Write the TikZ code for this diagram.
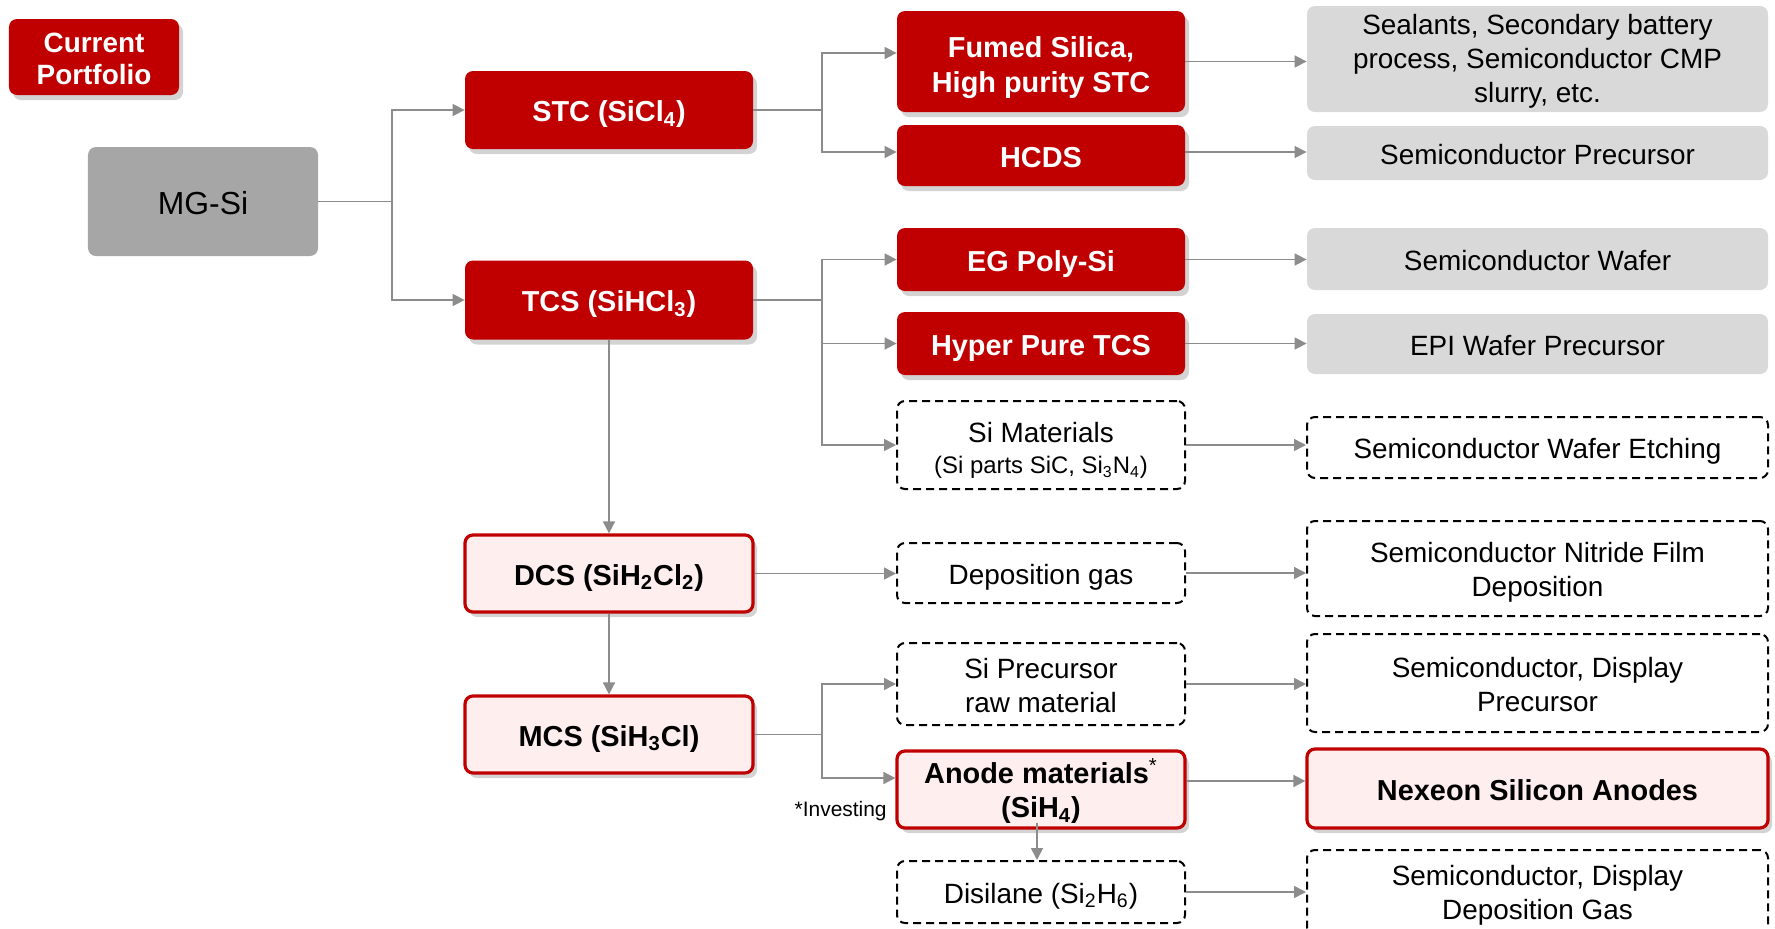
\documentclass[tikz,border=0pt]{standalone}
\usepackage{fontspec}
\setmainfont{Liberation Sans}
\usetikzlibrary{shadows,arrows.meta}
\definecolor{cred}{HTML}{C00000}
\definecolor{cpink}{HTML}{FFEEEE}
\definecolor{cgrey}{HTML}{A6A6A6}
\definecolor{clgrey}{HTML}{D9D9D9}
\definecolor{cline}{HTML}{8C8C8C}
\newcommand\pptTop{\rule{0pt}{1.03em}}
\newcommand\pptBot{\rule[-0.212em]{0pt}{0pt}}
\newcommand\firstline[1]{\rule{0pt}{#1}}
\begin{document}
\begin{tikzpicture}[x=0.5bp,y=-0.5bp,
 base/.style={align=center, inner sep=0pt, rounded corners=4bp, font=\fontsize{14}{17}\selectfont,
   execute at begin node=\pptTop, execute at end node=\pptBot},
 shad/.style={drop shadow={opacity=0.35, shadow xshift=2bp, shadow yshift=-2.5bp}},
 redbox/.style={base, fill=cred, text=white, font=\bfseries\fontsize{14.5}{17.5}\selectfont, shad},
 pinkbox/.style={base, fill=cpink, draw=cred, line width=1.6bp, font=\bfseries\fontsize{14.5}{17.5}\selectfont, shad},
 greybox/.style={base, fill=clgrey},
 dashbox/.style={base, draw=black, line width=1bp, dash pattern=on 4bp off 2.5bp},
 leftw/.style={minimum width=144bp},
 rightw/.style={minimum width=230.5bp},
 conn/.style={draw=cline, line width=0.8bp, -{Triangle[length=6bp,width=6bp]}},
 plain/.style={draw=cline, line width=0.8bp}
]
\useasboundingbox (0,0) rectangle (1775,928);

% column 0/1
\node[redbox, minimum width=85bp, minimum height=38bp, font=\bfseries\fontsize{14}{16}\selectfont] (cp) at (94,57) {\firstline{14.7bp}Current\\Portfolio};
\node[base, fill=cgrey, font=\fontsize{16}{19}\selectfont, minimum width=115bp, minimum height=54.5bp] (mg) at (203,201.5) {MG-Si};

% column 2
\node[redbox, minimum width=144bp, minimum height=39bp] (stc) at (609,110) {STC (SiCl\textsubscript{4})};
\node[redbox, minimum width=144bp, minimum height=39.5bp] (tcs) at (609,300) {TCS (SiHCl\textsubscript{3})};
\node[pinkbox, minimum width=144bp, minimum height=38.5bp] (dcs) at (609,573.5) {DCS (SiH\textsubscript{2}Cl\textsubscript{2})};
\node[pinkbox, minimum width=144bp, minimum height=38.5bp] (mcs) at (609,734.5) {MCS (SiH\textsubscript{3}Cl)};

% column 3
\node[redbox, leftw, minimum height=50.5bp] (fumed) at (1041,61.5) {\firstline{16.3bp}Fumed Silica,\\High purity STC};
\node[redbox, leftw, minimum height=30.5bp] (hcds) at (1041,155.5) {HCDS};
\node[redbox, leftw, minimum height=31.5bp] (eg) at (1041,259.5) {EG Poly-Si};
\node[redbox, leftw, minimum height=31.5bp] (hp) at (1041,343.5) {Hyper Pure TCS};
\node[dashbox, leftw, minimum height=44bp] (simat) at (1041,445) {\firstline{15.9bp}Si Materials\\[-1bp]{\fontsize{12}{14}\selectfont (Si parts SiC, Si\textsubscript{3}N\textsubscript{4})}};
\node[dashbox, leftw, minimum height=30bp] (depgas) at (1041,573) {Deposition gas};
\node[dashbox, leftw, minimum height=41bp] (sipre) at (1041,684) {\firstline{14.7bp}Si Precursor\\raw material};
\node[pinkbox, leftw, minimum height=38.5bp] (anode) at (1041,789.5) {\firstline{14.1bp}Anode materials\textsuperscript{\mdseries *}\\(SiH\textsubscript{4})};
\node[dashbox, leftw, minimum height=31bp] (disilane) at (1041,892) {Disilane (Si\textsubscript{2}H\textsubscript{6})};
\node[anchor=east, inner sep=0pt, font=\fontsize{10.5}{12}\selectfont] (inv) at (887,811) {*Investing};

% column 4
\node[greybox, rightw, minimum height=53bp] (seal) at (1537.5,59) {\firstline{12.5bp}Sealants, Secondary battery\\process, Semiconductor CMP\\slurry, etc.};
\node[greybox, rightw, minimum height=27bp] (sempre) at (1537.5,153) {Semiconductor Precursor};
\node[greybox, rightw, minimum height=31bp] (wafer) at (1537.5,259) {Semiconductor Wafer};
\node[greybox, rightw, minimum height=30bp] (epi) at (1537.5,344) {EPI Wafer Precursor};
\node[dashbox, rightw, minimum height=30.5bp] (etch) at (1537.5,447.5) {Semiconductor Wafer Etching};
\node[dashbox, rightw, minimum height=47.5bp] (nitride) at (1537.5,568.5) {\firstline{13.6bp}Semiconductor Nitride Film\\Deposition};
\node[dashbox, rightw, minimum height=49bp] (disppre) at (1537.5,683) {\firstline{14.2bp}Semiconductor, Display\\Precursor};
\node[pinkbox, rightw, minimum height=39.5bp, font=\bfseries\fontsize{14.5}{17.5}\selectfont] (nexeon) at (1537.5,788.5) {Nexeon Silicon Anodes};
\node[dashbox, rightw, minimum height=43bp] (dispgas) at (1537.5,893) {\firstline{12.5bp}Semiconductor, Display\\Deposition Gas};

% junctions
\coordinate (j1) at (392,201.5);
\coordinate (j2) at (822,110);
\coordinate (j3) at (822,300);
\coordinate (j4) at (822,734.5);

% connectors
\draw[plain] (mg.east) -- (j1);
\draw[conn] (j1) |- (stc.west);
\draw[conn] (j1) |- (tcs.west);

\draw[plain] (stc.east) -- (j2);
\draw[conn] (j2) |- ([yshift=4.25bp]fumed.west);
\draw[conn] (j2) |- ([yshift=1.75bp]hcds.west);

\draw[plain] (tcs.east) -- (j3);
\draw[conn] (j3) |- (eg.west);
\draw[conn] (j3) |- (hp.west);
\draw[conn] (j3) |- (simat.west);

\draw[conn] (tcs.south) -- (dcs.north);
\draw[conn] (dcs.south) -- (mcs.north);
\draw[conn] (dcs.east) -- (dcs.east -| depgas.west);

\draw[plain] (mcs.east) -- (j4);
\draw[conn] (j4) |- (sipre.west);
\draw[conn] (j4) |- ([yshift=5.75bp]anode.west);

\draw[conn] ([xshift=-2bp,yshift=3.5bp]anode.south) -- ([xshift=-2bp]disilane.north);

\draw[conn] (fumed.east) -- (fumed.east -| seal.west);
\draw[conn] ([yshift=1.75bp]hcds.east) -- ([yshift=1.75bp]hcds.east -| sempre.west);
\draw[conn] (eg.east) -- (eg.east -| wafer.west);
\draw[conn] (hp.east) -- (hp.east -| epi.west);
\draw[conn] (simat.east) -- (simat.east -| etch.west);
\draw[conn] (depgas.east) -- (depgas.east -| nitride.west);
\draw[conn] (sipre.east) -- (sipre.east -| disppre.west);
\draw[conn] ([yshift=4.25bp]anode.east) -- ([yshift=4.25bp]anode.east -| nexeon.west);
\draw[conn] (disilane.east) -- (disilane.east -| dispgas.west);
\end{tikzpicture}
\end{document}
